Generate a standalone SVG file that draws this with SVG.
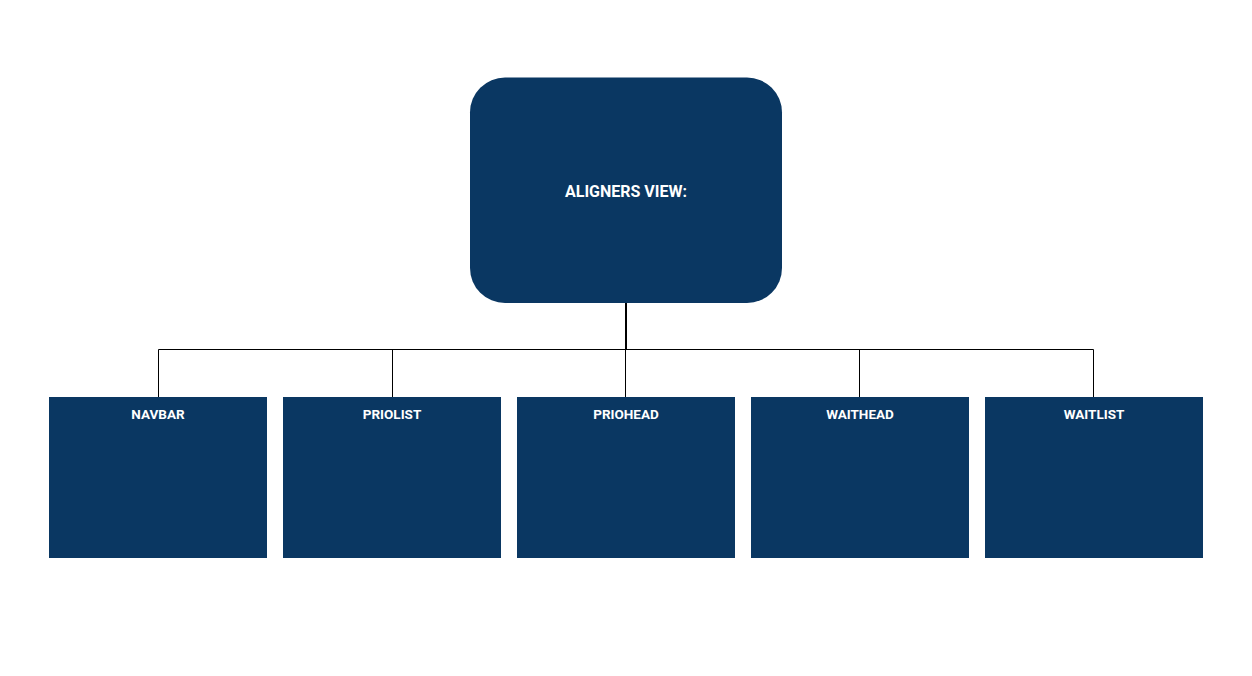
<svg xmlns="http://www.w3.org/2000/svg" width="1252" height="676" viewBox="0 0 1252 676">
<style>
.box{fill:#0a3762;}
.lbl{font-family:Roboto,"Liberation Sans",sans-serif;font-weight:bold;fill:#ffffff;text-anchor:middle;}
.c{font-size:13.5px;}
.m{font-size:16px;}
.ln{stroke:#000000;stroke-width:1;fill:none;}
</style>
<rect width="1252" height="676" fill="#ffffff"/>
<g id="connectors">
<line class="ln" x1="626" y1="303" x2="626" y2="349.5" style="stroke-width:2"/>
<line class="ln" x1="158.5" y1="349.5" x2="1093.5" y2="349.5"/>
<line class="ln" x1="158.5" y1="349.5" x2="158.5" y2="397"/>
<line class="ln" x1="392.5" y1="349.5" x2="392.5" y2="397"/>
<line class="ln" x1="625.5" y1="349.5" x2="625.5" y2="397"/>
<line class="ln" x1="859.5" y1="349.5" x2="859.5" y2="397"/>
<line class="ln" x1="1093.5" y1="349.5" x2="1093.5" y2="397"/>
</g>
<g id="aligners-view">
<rect class="box" x="470" y="77.5" width="312" height="225.5" rx="35" ry="35"/>
<text class="lbl m" x="626" y="196.5">ALIGNERS VIEW:</text>
</g>
<g id="navbar">
<rect class="box" x="49" y="397" width="218" height="161"/>
<text class="lbl c" x="158" y="418.5">NAVBAR</text>
</g>
<g id="priolist">
<rect class="box" x="283" y="397" width="218" height="161"/>
<text class="lbl c" x="392" y="418.5">PRIOLIST</text>
</g>
<g id="priohead">
<rect class="box" x="517" y="397" width="218" height="161"/>
<text class="lbl c" x="626" y="418.5">PRIOHEAD</text>
</g>
<g id="waithead">
<rect class="box" x="751" y="397" width="218" height="161"/>
<text class="lbl c" x="860" y="418.5">WAITHEAD</text>
</g>
<g id="waitlist">
<rect class="box" x="985" y="397" width="218" height="161"/>
<text class="lbl c" x="1094" y="418.5">WAITLIST</text>
</g>
</svg>
